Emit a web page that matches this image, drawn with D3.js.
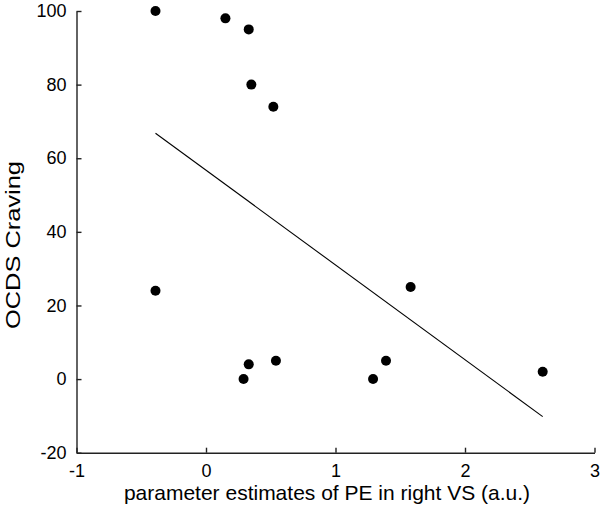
<!DOCTYPE html>
<html>
<head>
<meta charset="utf-8">
<script src="https://cdn.jsdelivr.net/npm/d3@7"></script>
<style>
  body { margin: 0; background: #fff; }
  text { font-family: "Liberation Sans", Arial, sans-serif; fill: #000; }
</style>
</head>
<body>
<script>
// points
let peValues = [-0.39, 0.15, 0.33, 0.35, 0.52, -0.39, 0.29, 0.33, 0.54, 1.29, 1.39, 1.58, 2.6]
let craving = [100, 98, 95, 80, 74, 24, 0, 4, 5, 0, 5, 25, 2]
// fitted line ends
let fitX = [-0.39, 2.6]
let fitY = [66.8, -10.2]
let xTicks = [-1, 0, 1, 2, 3]
let yTicks = [-20, 0, 20, 40, 60, 80, 100]

let width = 600
let height = 512
let margin = {top: 11, right: 5.5, bottom: 59.3, left: 76.5}

let svg = d3.select('body').append('svg')
  .attr('width', width)
  .attr('height', height)

//scales
let xScale = d3.scaleLinear().domain([-1, 3]).range([margin.left, width - margin.right])
let yScale = d3.scaleLinear().domain([-20, 100]).range([height - margin.bottom, margin.top])

// axes, ticks pointing inward, plain hyphen minus
let fmt = d => String(d)
svg.append('g')
  .attr('transform', `translate(0,${height - margin.bottom})`)
  .call(d3.axisBottom(xScale).tickValues(xTicks).tickFormat(fmt).tickSize(-5).tickSizeOuter(0).tickPadding(12))
svg.append('g')
  .attr('transform', `translate(${margin.left},0)`)
  .call(d3.axisLeft(yScale).tickValues(yTicks).tickFormat(fmt).tickSize(-5).tickSizeOuter(0).tickPadding(10))

svg.selectAll('.domain, .tick line').attr('stroke', '#222').attr('stroke-width', 1.4)
svg.selectAll('.tick text').attr('font-size', 18).style('font-family', '"Liberation Sans", Arial, sans-serif')

// fitted line
let fit = fitX.map((x, i) => [x, fitY[i]])
svg.append('path')
  .datum(fit)
  .attr('d', d3.line().x(d => xScale(d[0])).y(d => yScale(d[1])))
  .attr('stroke', '#000')
  .attr('stroke-width', 1.1)
  .attr('fill', 'none')

// dots
svg.selectAll('circle')
  .data(peValues.map((x, i) => ({x: x, y: craving[i]})))
  .enter()
  .append('circle')
  .attr('cx', d => xScale(d.x))
  .attr('cy', d => yScale(d.y))
  .attr('r', 5)
  .attr('fill', '#000')

// titles
svg.append('text')
  .attr('x', 327)
  .attr('y', 500)
  .attr('text-anchor', 'middle')
  .attr('font-size', 21)
  .text('parameter estimates of PE in right VS (a.u.)')

svg.append('text')
  .attr('transform', 'translate(20,245) rotate(-90)')
  .attr('text-anchor', 'middle')
  .attr('font-size', 21)
  .attr('textLength', 168)
  .attr('lengthAdjust', 'spacingAndGlyphs')
  .text('OCDS Craving')
</script>
</body>
</html>
